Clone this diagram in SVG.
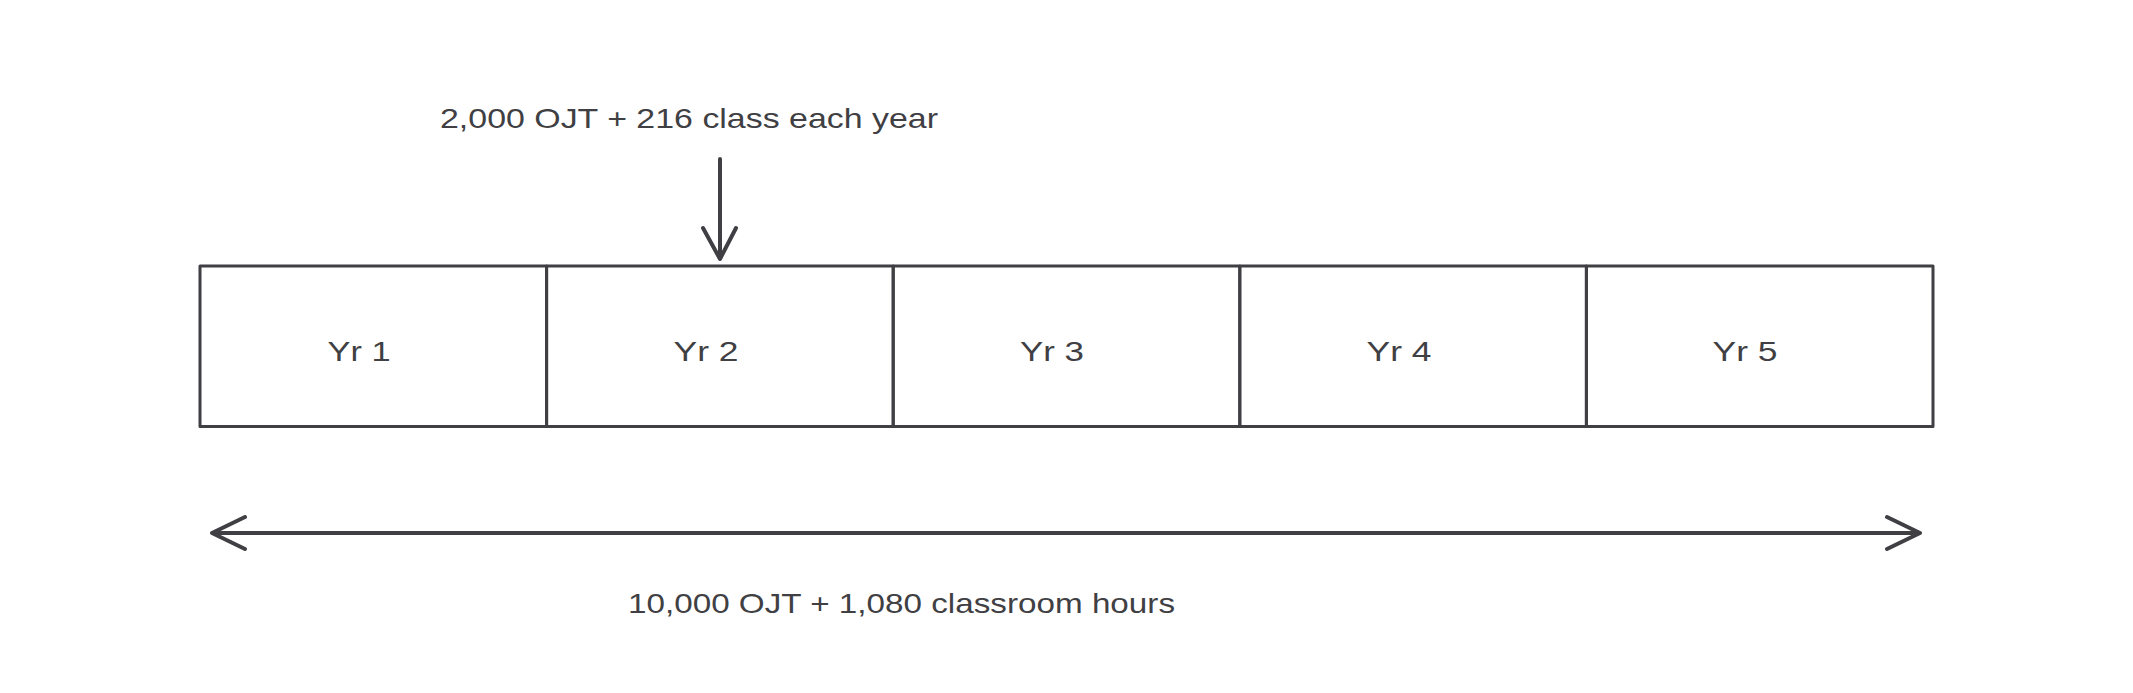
<svg xmlns="http://www.w3.org/2000/svg" width="2133" height="693" viewBox="0 0 2133 693">
<style>
.box{fill:none;stroke:#3f3f44;stroke-width:3;stroke-linejoin:round}
.ln{fill:none;stroke:#3f3f44;stroke-width:4;stroke-linecap:round;stroke-linejoin:round}
.t{font-family:"Liberation Sans",Arial,sans-serif;font-size:28px;fill:#3f3f44}
</style>
<rect width="2133" height="693" fill="#ffffff"/>
<g id="yr1"><rect class="box" x="200" y="266" width="346.6" height="160.5"/><text class="t" x="359" y="361" text-anchor="middle" textLength="63" lengthAdjust="spacingAndGlyphs">Yr 1</text></g>
<g id="yr2"><rect class="box" x="546.6" y="266" width="346.6" height="160.5"/><text class="t" x="706" y="361" text-anchor="middle" textLength="65" lengthAdjust="spacingAndGlyphs">Yr 2</text></g>
<g id="yr3"><rect class="box" x="893.2" y="266" width="346.6" height="160.5"/><text class="t" x="1052" y="361" text-anchor="middle" textLength="64" lengthAdjust="spacingAndGlyphs">Yr 3</text></g>
<g id="yr4"><rect class="box" x="1239.8" y="266" width="346.6" height="160.5"/><text class="t" x="1399" y="361" text-anchor="middle" textLength="65" lengthAdjust="spacingAndGlyphs">Yr 4</text></g>
<g id="yr5"><rect class="box" x="1586.4" y="266" width="346.6" height="160.5"/><text class="t" x="1745" y="361" text-anchor="middle" textLength="65" lengthAdjust="spacingAndGlyphs">Yr 5</text></g>
<g id="label-top"><text class="t" x="440" y="128" textLength="498" lengthAdjust="spacingAndGlyphs">2,000 OJT + 216 class each year</text></g>
<g id="label-bottom"><text class="t" x="628" y="613" textLength="547" lengthAdjust="spacingAndGlyphs">10,000 OJT + 1,080 classroom hours</text></g>
<g id="connectors">
<path class="ln" d="M720 159 L720 259 M703 228 L720 259 L736 228"/>
<path class="ln" d="M212 533 L1920 533 M245 517 L212 533 L245 549 M1887 517 L1920 533 L1887 549"/>
</g>
</svg>
